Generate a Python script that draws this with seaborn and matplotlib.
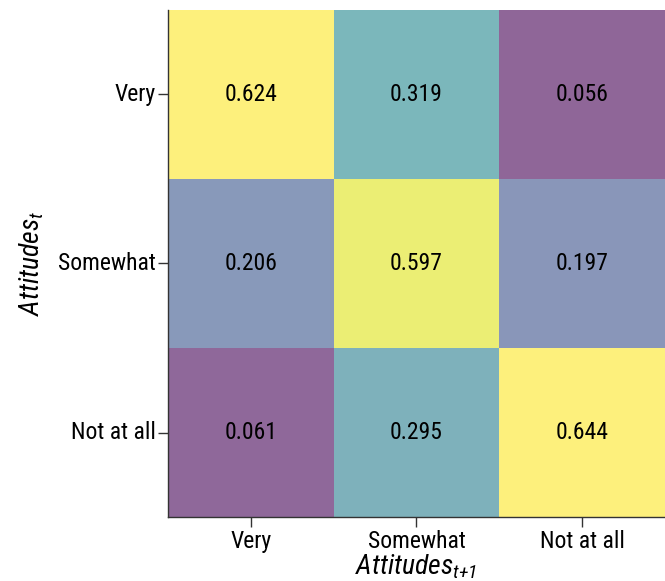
import matplotlib
matplotlib.use("Agg")
import matplotlib.pyplot as plt
import numpy as np
import pandas as pd
import seaborn as sns
from matplotlib import font_manager

# Transition probabilities between attitude levels
states = ["Very", "Somewhat", "Not at all"]
row_very = [0.624, 0.319, 0.056]
row_somewhat = [0.206, 0.597, 0.197]
row_notatall = [0.061, 0.295, 0.644]

matrix = pd.DataFrame([row_very, row_somewhat, row_notatall],
                      index=states, columns=states)

sns.set_theme(style="white")
installed = {f.name for f in font_manager.fontManager.ttflist}
family = next((f for f in ("Liberation Sans Narrow", "Arial Narrow", "Roboto Condensed",
                           "Archivo Narrow", "Liberation Sans") if f in installed),
              "DejaVu Sans")
plt.rcParams["font.family"] = [family, "DejaVu Sans"]
plt.rcParams["mathtext.fontset"] = "custom"
plt.rcParams["mathtext.it"] = f"{family}:italic"
plt.rcParams["mathtext.rm"] = f"{family}:italic"

fig = plt.figure(figsize=(6.65, 5.81), dpi=100)
ax = fig.add_axes([0.2526, 0.110, 0.7474, 0.873])

sns.heatmap(matrix, ax=ax, cmap="viridis", alpha=0.6, cbar=False,
            vmin=0.056, vmax=0.624,
            annot=True, fmt=".3f",
            annot_kws={"color": "black", "fontsize": 17})

for side in ("left", "bottom"):
    ax.spines[side].set_visible(True)
    ax.spines[side].set_color("#333333")
    ax.spines[side].set_linewidth(1.0)
for side in ("top", "right"):
    ax.spines[side].set_visible(False)

ax.tick_params(axis="both", which="both", length=7, width=1, color="#333333",
               labelsize=17, labelcolor="black", left=True, bottom=True, pad=2)
ax.set_yticklabels(states, rotation=0)
ax.set_xticklabels(states, rotation=0)

ax.set_xlabel(r"$Attitudes_{t{+}1}$", fontsize=20, labelpad=0, color="black")
ax.set_ylabel(r"$Attitudes_{t}$", fontsize=20, labelpad=8, color="black")

fig.savefig("out.png", dpi=100)
